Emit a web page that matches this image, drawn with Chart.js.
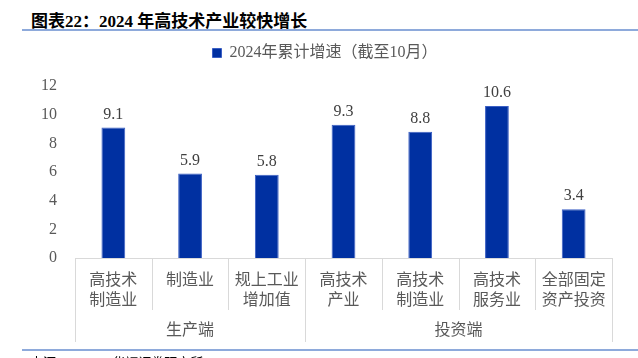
<!DOCTYPE html>
<html>
<head>
<meta charset="utf-8">
<script src="https://cdn.jsdelivr.net/npm/chart.js@4"></script>
<style>
  html, body { margin: 0; padding: 0; background: #fff; }
  #wrap { position: relative; width: 638px; height: 358px; overflow: hidden; }
  #title {
    position: absolute; left: 31px; top: 7px;
    font: bold 17px "Liberation Serif", "Noto Sans CJK SC", serif; color: #000;
    white-space: nowrap;
  }
  .rule { position: absolute; left: 22px; right: 0; height: 2px; background: #8eaadb; }
  #source {
    position: absolute; left: 30px; top: 352px;
    font: 13px "Liberation Serif", "Noto Sans CJK SC", serif; color: #000;
    white-space: nowrap;
  }
  #chartBox { position: absolute; left: 0; top: 0; width: 638px; height: 358px; }
</style>
</head>
<body>
<div id="wrap">
  <div id="title">图表22：2024 年高技术产业较快增长</div>
  <div class="rule" style="top:29px"></div>
  <div id="chartBox"><canvas id="c"></canvas></div>
  <div class="rule" style="top:349px"></div>
  <div id="source">来源：iFinD，华福证券研究所</div>
</div>
<script>
// data
var categories = [
  ['高技术', '制造业'],
  ['制造业'],
  ['规上工业', '增加值'],
  ['高技术', '产业'],
  ['高技术', '制造业'],
  ['高技术', '服务业'],
  ['全部固定', '资产投资']
];
var growth = [9.1, 5.9, 5.8, 9.3, 8.8, 10.6, 3.4];
var groupNames = ['生产端', '投资端'];
var groupSizes = [3, 4];
var seriesName = '2024年累计增速（截至10月）';
var yTicks = [0, 2, 4, 6, 8, 10, 12];

var serif = '"Liberation Serif", "Noto Sans CJK SC", serif';
var grey = '#595959';
var lineGrey = '#d9d9d9';

// value labels above each bar
var valueLabels = {
  id: 'valueLabels',
  afterDatasetsDraw: function (chart) {
    var ctx = chart.ctx;
    var meta = chart.getDatasetMeta(0);
    ctx.save();
    ctx.font = '16px ' + serif;
    ctx.fillStyle = '#404040';
    ctx.textAlign = 'center';
    ctx.textBaseline = 'bottom';
    meta.data.forEach(function (bar, i) {
      ctx.fillText(growth[i].toFixed(1), bar.x, bar.y - 5);
    });
    ctx.restore();
  }
};

// category separators + group row underneath the x axis
var groupRow = {
  id: 'groupRow',
  afterDraw: function (chart) {
    var x = chart.scales.x;
    var ctx = chart.ctx;
    var n = categories.length;
    var w = (x.right - x.left) / n;
    var top = x.top;
    var groupEdges = [0];
    groupSizes.forEach(function (s) { groupEdges.push(groupEdges[groupEdges.length - 1] + s); });
    ctx.save();
    ctx.strokeStyle = lineGrey;
    ctx.lineWidth = 1;
    for (var k = 0; k <= n; k++) {
      var px = Math.round(x.left + k * w) + 0.5;
      var len = groupEdges.indexOf(k) >= 0 ? 84 : 52;
      ctx.beginPath();
      ctx.moveTo(px, top);
      ctx.lineTo(px, top + len);
      ctx.stroke();
    }
    ctx.font = '16px ' + serif;
    ctx.fillStyle = grey;
    ctx.textAlign = 'center';
    ctx.textBaseline = 'middle';
    for (var g = 0; g < groupNames.length; g++) {
      var cx = x.left + (groupEdges[g] + groupEdges[g + 1]) / 2 * w;
      ctx.fillText(groupNames[g], cx, top + 73);
    }
    ctx.restore();
  }
};

// extra room under the legend, and nudge it right like the original
var legendTweak = {
  id: 'legendTweak',
  beforeInit: function (chart) {
    var fit = chart.legend.fit;
    chart.legend.fit = function () {
      fit.bind(chart.legend)();
      this.height += 15;
    };
  },
  afterLayout: function (chart) {
    chart.legend.left += 4;
    chart.legend.right += 4;
  }
};

new Chart(document.getElementById('c'), {
  type: 'bar',
  data: {
    labels: categories,
    datasets: [{
      label: seriesName,
      data: growth,
      backgroundColor: '#0030a1',
      borderColor: '#3b5fc4',
      borderWidth: 1,
      categoryPercentage: 1,
      barPercentage: 0.31
    }]
  },
  options: {
    responsive: true,
    maintainAspectRatio: false,
    animation: false,
    layout: { padding: { left: 30, right: 26, top: 35, bottom: 48 } },
    plugins: {
      legend: {
        position: 'top',
        labels: {
          boxWidth: 9, boxHeight: 9, padding: 10,
          color: grey,
          font: { size: 16, family: serif }
        }
      },
      tooltip: { enabled: false }
    },
    scales: {
      x: {
        grid: { display: false, drawTicks: false },
        border: { display: true, color: lineGrey },
        ticks: {
          color: grey, padding: 13,
          maxRotation: 0, autoSkip: false,
          font: { size: 16, family: serif, lineHeight: 1.25 }
        },
        afterFit: function (s) { s.height = 52; }
      },
      y: {
        min: 0, max: 12,
        afterBuildTicks: function (s) { s.ticks = yTicks.map(function (v) { return { value: v }; }); },
        grid: { display: false, drawTicks: false },
        border: { display: false },
        ticks: { color: grey, padding: 18, font: { size: 16, family: serif } },
        afterFit: function (s) { s.width = 45; }
      }
    }
  },
  plugins: [valueLabels, groupRow, legendTweak]
});
</script>
</body>
</html>
